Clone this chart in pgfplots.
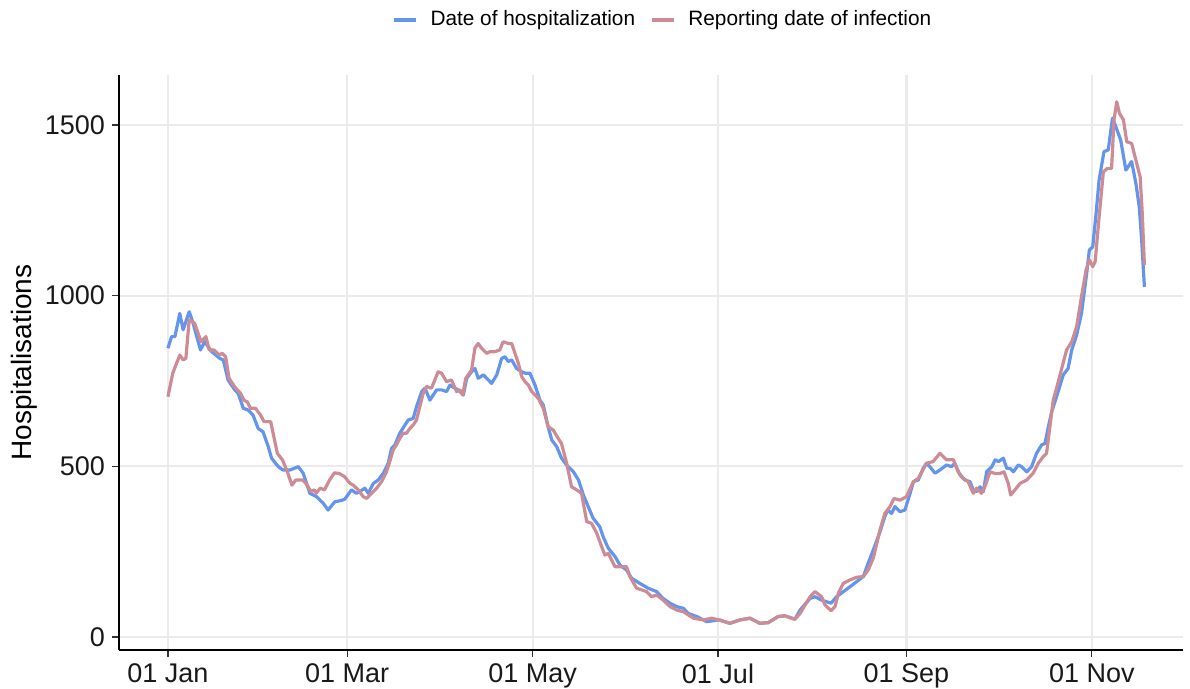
\documentclass[border=0pt]{standalone}
\usepackage{fontspec}
\setmainfont{Liberation Sans}
\usepackage{pgfplots}
\pgfplotsset{compat=1.18}
\definecolor{hosp}{HTML}{6495ED}
\definecolor{rep}{HTML}{CD8C95}
\definecolor{gridc}{HTML}{EBEBEB}
\begin{document}
\begin{tikzpicture}
\useasboundingbox (-59.5pt,-19.5pt) rectangle (535.5pt,325pt);
\begin{axis}[
 at={(0,0)}, anchor=south west, scale only axis,
 width=532pt, height=287.5pt,
 xmin=-16.1, xmax=334, ymin=-38.1, ymax=1646.6,
 axis x line*=bottom, axis y line*=left,
 axis line style={-, black, line width=0.6pt},
 xtick={0,59,120,181,243,304},
 xticklabels={01 Jan,01 Mar,01 May,01 Jul,01 Sep,01 Nov},
 ytick={0,500,1000,1500},
 yticklabels={0,500,1000,1500},
 tick align=outside, major tick length=3.5pt,
 tick style={black!80, line width=0.6pt},
 grid=major, major grid style={gridc, line width=1.1pt},
 ticklabel style={font=\fontsize{13.5pt}{16pt}\selectfont, text=black!90},
 ylabel={Hospitalisations}, ylabel style={font=\fontsize{14pt}{16pt}\selectfont},
 ylabel shift=-3pt,
 legend style={draw=none, fill=none, at={(0.512,1.0957)}, anchor=center,
   legend columns=2, font=\fontsize{10.4pt}{12pt}\selectfont,
   /tikz/every odd column/.append style={column sep=4.5pt},
   /tikz/every even column/.append style={column sep=5.5pt}},
 legend image code/.code={\draw[#1] (0pt,0pt) -- (11pt,0pt);},
]
\addplot[hosp, line width=1.6pt, line join=round] coordinates {
(0,846)(1.2,880)(2.3,880)(3.9,948)(5,900)(7,953)(8.3,919)(10.7,841)(12.1,865)(14.4,836)
(17.1,816)(18.2,812)(19.8,753)(22,724)(23.1,714)(24.8,670)(26.4,665)(28,650)(29.7,611)(31.3,601)
(33,558)(34.1,524)(36.3,499)(37.9,489)(40.1,489)(42.9,499)(44.5,480)(46.7,421)(48.9,411)(51.1,392)
(52.7,372)(54.9,396)(57.1,400)(58.2,404)(60.4,431)(62,421)(63.1,426)(64.8,436)(65.9,421)(67.6,450)
(69.2,460)(70.9,480)(72.5,509)(73.6,553)(74.7,563)(76.3,597)(78,621)(79.1,636)(80.7,640)(81.8,675)
(83.5,719)(84.6,729)(86.2,694)(88.4,724)(90,724)(91.7,719)(92.8,738)(94.4,729)(95.5,724)(97.2,709)
(98.3,758)(99.9,777)(101,787)(102.1,758)(103.8,768)(104.9,758)(106.5,743)(108.2,768)(109.8,816)(110.9,821)
(112,807)(113.1,812)(114.7,787)(116.4,777)(117.5,773)(119.1,773)(120.8,738)(122.4,694)(123.5,680)(125.1,616)
(126.3,577)(127.9,558)(129.5,524)(131.2,504)(133.4,484)(135.1,460)(136.7,416)(138.3,382)(139.9,348)(142.1,323)
(143.2,294)(144.9,260)(147.1,236)(148.7,211)(150.9,196)(152.6,172)(155.3,157)(158,143)(160.8,133)(162.9,113)
(165.2,99)(167.4,89)(169.6,84)(171.2,69)(174,60)(177.3,45)(181.4,50)(184.9,40)(188.2,50)(191.5,55)
(194.8,40)(197.5,42)(200.8,60)(203,62)(206.3,52)(208,79)(211.3,113)(212.9,118)(215.1,108)(218.2,99)
(220,118)(224.4,147)(226.6,162)(228.8,177)(230.4,216)(232.1,255)(234.3,308)(235.9,353)(236.8,372)(238.1,362)
(239.2,382)(240.9,367)(242.5,372)(244.2,421)(245.3,455)(246.9,460)(248.5,494)(249.6,509)(250.7,499)(252.4,480)
(254,489)(256.2,504)(257.8,499)(258.9,509)(260.6,475)(262.2,460)(263.9,455)(265,431)(266.1,426)(267.2,440)
(268.3,426)(269.4,484)(271.1,499)(272.2,519)(273.3,514)(274.9,524)(276,494)(277.1,494)(278.2,484)(279.8,504)
(280.9,499)(282.6,484)(284.2,499)(285.8,538)(287.5,563)(288.6,567)(289.7,616)(290.8,660)(292.4,704)(294.6,768)
(296.2,787)(297.4,841)(299,885)(300.6,948)(302.3,1065)(303.2,1134)(304.3,1143)(305.4,1241)(306.4,1339)(308,1422)
(309.4,1427)(310.8,1520)(311.9,1495)(313.5,1456)(315.2,1368)(317.1,1393)(318.5,1329)(319.6,1261)(320.4,1163)(321.3,1026)
};
\addlegendentry{Date of hospitalization}
\addplot[rep, line width=1.6pt, line join=round] coordinates {
(0,704)(1.6,773)(3.9,826)(5,812)(5.9,816)(7,929)(8.8,919)(10.9,865)(12.5,880)(13.6,841)
(15.2,841)(16.8,826)(17.9,831)(19,821)(20.1,758)(22.3,729)(23.9,714)(25,694)(26.1,689)(27.2,670)
(28.8,670)(30.5,650)(31.6,631)(33.8,631)(34.4,606)(36,538)(37.7,519)(39.3,484)(40.8,445)(42.1,460)
(44.3,460)(45.4,450)(47.1,426)(48.2,431)(48.8,421)(50.1,436)(51.5,431)(53.2,460)(54.8,481)(56.4,479)
(58.1,470)(59.9,450)(61,445)(62.6,431)(64.3,411)(65.4,406)(67,421)(68.7,436)(70.3,455)(71.9,484)
(73,514)(74.1,548)(75.2,563)(76.3,582)(77.4,597)(78.5,597)(79.6,611)(80.7,621)(81.8,636)(82.9,675)
(84,714)(85.1,734)(86.7,729)(87.6,748)(88.9,777)(90,773)(91.7,748)(93.3,753)(95,719)(96.1,724)
(97,709)(98,758)(99.9,782)(101,846)(102.1,860)(103.2,846)(104.9,831)(105.9,836)(107.6,836)(109.2,841)
(110.3,865)(112,860)(113.1,860)(114.2,831)(115.3,802)(116.4,763)(117.5,748)(118.6,738)(119.7,719)(120.8,709)
(121.9,699)(123.5,670)(125.1,616)(126.8,606)(128.4,582)(129.5,567)(131.2,509)(132.8,440)(134.5,431)(136.1,421)
(137.8,338)(139.4,333)(141.1,304)(142.7,265)(143.8,240)(144.9,245)(147.1,206)(149.3,206)(150.9,206)(152,177)
(154.2,143)(157.5,133)(159.1,118)(160.8,123)(163,108)(165.2,89)(167.4,79)(169.6,74)(172.9,55)(176.2,50)
(178.9,55)(181.4,50)(184.9,40)(188.2,50)(191.5,55)(194.8,40)(197.5,42)(200.8,60)(203,62)(206.3,52)
(208,69)(211.3,118)(212.9,133)(215.1,118)(216.2,94)(218.2,77)(219.5,89)(220.6,128)(222.2,157)(224.4,167)
(226.6,175)(228.8,177)(230.4,196)(232.1,231)(234.3,314)(235.9,362)(237.6,382)(238.9,406)(240.9,401)(243,411)
(245.3,455)(246.9,465)(249.6,509)(251.8,514)(254,538)(256.2,519)(258.4,520)(260,484)(261.7,465)(263.3,455)
(265,421)(266.1,436)(267.7,421)(268.8,440)(270.5,484)(272.2,479)(273.8,479)(275.1,484)(276.5,450)(277.3,416)
(278.7,431)(280.4,450)(282.6,460)(284.7,480)(286.4,509)(288,528)(289.1,538)(290.2,616)(291.3,694)(292.4,729)
(294.1,787)(295.7,841)(297.4,865)(299,909)(300.6,997)(302.1,1075)(303.2,1105)(304.3,1085)(305.1,1100)(306.4,1231)
(307.8,1363)(309.1,1373)(310.5,1373)(311.3,1515)(312.2,1568)(313.1,1534)(314.4,1515)(315.5,1451)(317.1,1446)(318.5,1397)
(319.9,1348)(320.6,1241)(321.3,1090)
};
\addlegendentry{Reporting date of infection}
\end{axis}
\end{tikzpicture}
\end{document}
